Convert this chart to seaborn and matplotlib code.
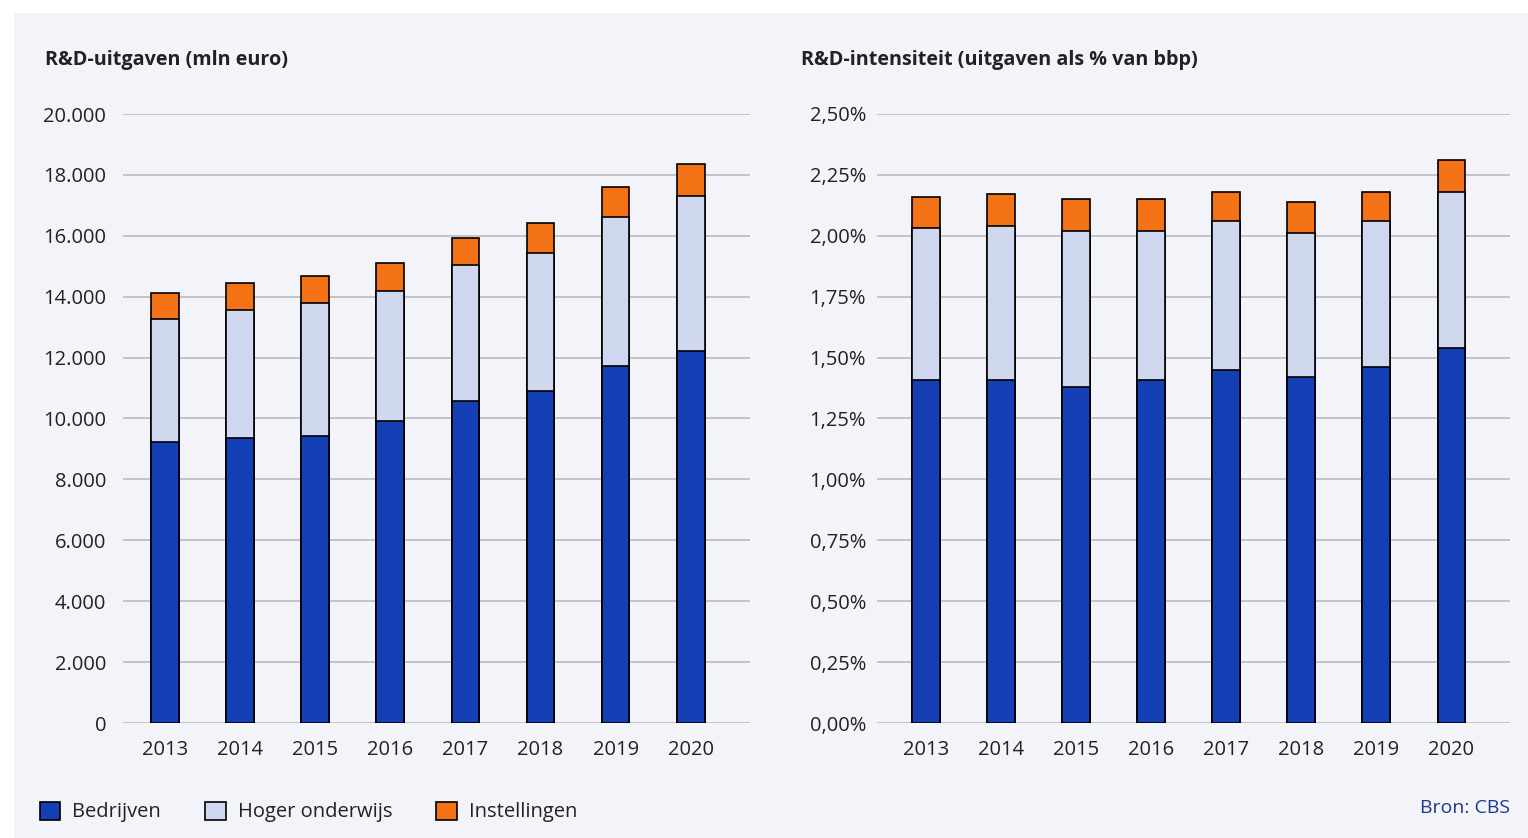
import numpy as np
import pandas as pd
import seaborn as sns
import matplotlib.pyplot as plt
from matplotlib.patches import Patch, Rectangle

years = ["2013", "2014", "2015", "2016", "2017", "2018", "2019", "2020"]

# R&D-uitgaven (mln euro)
bedrijven_mln = [9230, 9360, 9430, 9920, 10580, 10900, 11720, 12220]
hoger_mln = [4040, 4200, 4370, 4270, 4460, 4530, 4890, 5090]
instellingen_mln = [850, 890, 890, 920, 890, 990, 990, 1050]

# R&D-intensiteit (% bbp)
bedrijven_pct = [1.41, 1.41, 1.38, 1.41, 1.45, 1.42, 1.46, 1.54]
hoger_pct = [0.62, 0.63, 0.64, 0.61, 0.61, 0.59, 0.60, 0.64]
instellingen_pct = [0.13, 0.13, 0.13, 0.13, 0.12, 0.13, 0.12, 0.13]

series_names = ["Bedrijven", "Hoger onderwijs", "Instellingen"]
left_ticks = [0, 2000, 4000, 6000, 8000, 10000, 12000, 14000, 16000, 18000, 20000]
left_labels = ["0", "2.000", "4.000", "6.000", "8.000", "10.000", "12.000",
               "14.000", "16.000", "18.000", "20.000"]
right_ticks = [0, 0.25, 0.5, 0.75, 1.0, 1.25, 1.5, 1.75, 2.0, 2.25, 2.5]
right_labels = ["0,00%", "0,25%", "0,50%", "0,75%", "1,00%", "1,25%", "1,50%",
                "1,75%", "2,00%", "2,25%", "2,50%"]

colors = ["#143fb5", "#d0d8f0", "#f47216"]
bg = "#f3f4f9"
text_col = "#222222"

sns.set_style("white")
plt.rcParams["font.family"] = ["Open Sans", "DejaVu Sans"]

W, H = 1528, 838
fig = plt.figure(figsize=(W / 100, H / 100), dpi=100)
fig.patch.set_facecolor("white")
fig.add_artist(Rectangle((14 / W, 0), 1 - 14 / W, 1 - 13 / H, transform=fig.transFigure,
                         facecolor=bg, edgecolor="none", zorder=-10))


def stacked(ax, parts, ticks, labels, xlim, pad):
    ax.set_facecolor(bg)
    cum = np.zeros(len(years))
    layers = []
    for p in parts:
        cum = cum + np.array(p)
        layers.append(cum.copy())
    # draw tallest first so lower layers sit on top
    for vals, c in zip(layers[::-1], colors[::-1]):
        df = pd.DataFrame({"jaar": years, "waarde": vals})
        sns.barplot(data=df, x="jaar", y="waarde", color=c, width=0.37,
                    edgecolor="black", linewidth=1.2, saturation=1, ax=ax)
    ax.set_ylim(ticks[0], ticks[-1])
    ax.set_xlim(*xlim)
    ax.set_yticks(ticks, labels)
    ax.set_xlabel("")
    ax.set_ylabel("")
    ax.yaxis.grid(True, color="#bfbfc4", linewidth=1.3)
    ax.set_axisbelow(True)
    for s in ax.spines.values():
        s.set_visible(False)
    ax.tick_params(axis="y", length=0, pad=pad, labelsize=14.5, labelcolor=text_col)
    ax.tick_params(axis="x", length=0, pad=12, labelsize=14.5, labelcolor=text_col)


ax1 = fig.add_axes([123 / W, 1 - 723 / H, 627 / W, 609 / H])
stacked(ax1, [bedrijven_mln, hoger_mln, instellingen_mln], left_ticks, left_labels,
        (-0.56, 7.79), 12)

ax2 = fig.add_axes([877 / W, 1 - 723 / H, 633 / W, 609 / H])
stacked(ax2, [bedrijven_pct, hoger_pct, instellingen_pct], right_ticks, right_labels,
        (-0.65, 7.78), 8)

fig.text(45 / W, 1 - 60 / H, "R&D-uitgaven (mln euro)", fontsize=14.2, fontweight="bold",
         color=text_col, ha="left", va="center")
fig.text(801 / W, 1 - 60 / H, "R&D-intensiteit (uitgaven als % van bbp)", fontsize=14.2,
         fontweight="bold", color=text_col, ha="left", va="center")

handles = [Patch(facecolor=c, edgecolor="black", linewidth=1.2, label=n)
           for c, n in zip(colors, series_names)]
fig.legend(handles=handles, loc="center left", bbox_to_anchor=(22 / W, 1 - 812 / H),
           ncol=3, frameon=False, fontsize=14.5, handlelength=1.0, handleheight=1.0,
           handletextpad=0.6, columnspacing=2.2, labelcolor=text_col)

fig.text(1510 / W, 1 - 808 / H, "Bron: CBS", fontsize=14, color="#1b3a8c",
         ha="right", va="center")

fig.savefig("out.png", dpi=100, facecolor=fig.get_facecolor())
